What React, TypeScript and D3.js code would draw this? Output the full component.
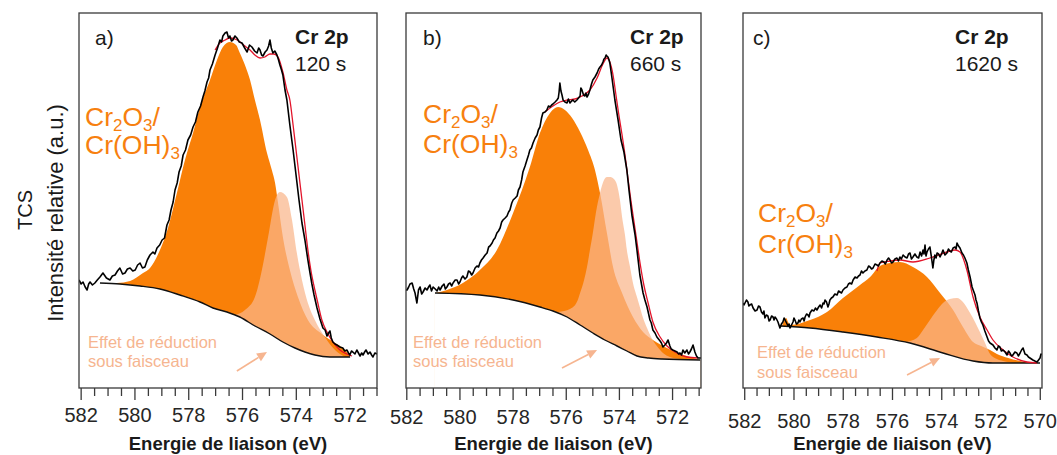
import React from "react";
import * as d3 from "d3";

type Pt = [number, number]; // [binding energy (eV), intensity (a.u.)]

// ---------------- Panel a) 120 s ----------------
const spectrumA: Pt[] = [
  [582.08,108],[582.00,104],[581.93,106],[581.85,101],[581.78,98],[581.72,104],[581.67,106],[581.58,103],[581.49,105],[581.40,108],
  [581.30,111],[581.19,115],[581.06,110],[580.93,108],[580.84,112],[580.74,113],[580.65,117],[580.56,120],[580.46,114],[580.37,115],
  [580.28,119],[580.18,120],[580.08,117],[579.99,118],[579.90,123],[579.81,125],[579.72,120],[579.63,121],[579.54,128],[579.44,133],
  [579.33,136],[579.26,134],[579.18,140],[579.08,143],[578.99,148],[578.90,150],[578.81,163],[578.73,168],[578.66,178],[578.58,186],
  [578.51,198],[578.43,205],[578.36,216],[578.28,222],[578.21,233],[578.12,238],[578.03,248],[577.93,253],[577.84,261],[577.75,266],
  [577.66,276],[577.56,282],[577.47,291],[577.40,297],[577.32,306],[577.26,310],[577.21,318],[577.12,324],[577.02,333],[576.93,340],
  [576.84,348],[576.78,346],[576.73,352],[576.65,355],[576.58,356],[576.52,350],[576.47,352],[576.41,347],[576.36,348],[576.28,352],
  [576.21,350],[576.12,346],[576.02,345],[575.92,340],[575.83,336],[575.74,343],[575.65,341],[575.55,337],[575.46,335],[575.40,340],
  [575.35,338],[575.29,333],[575.24,332],[575.16,336],[575.09,338],[575.03,342],[574.98,348],[574.93,340],[574.87,335],[574.80,337],
  [574.72,333],[574.66,328],[574.61,323],[574.55,318],[574.50,313],[574.42,298],[574.35,288],[574.24,263],[574.12,238],[574.01,213],
  [573.90,188],[573.79,165],[573.68,148],[573.57,128],[573.49,115],[573.42,104],[573.34,93],[573.23,80],[573.12,69],[573.01,60],
  [572.93,58],[572.86,52],[572.80,55],[572.75,57],[572.70,50],[572.64,46],[572.56,44],[572.49,43],[572.38,41],[572.27,40],
  [572.20,37],[572.12,38],[572.06,35],[572.01,33],[571.95,37],[571.90,36],[571.82,34],[571.75,38],[571.69,35],[571.63,32],
  [571.57,35],[571.52,33],[571.46,36],[571.41,38],[571.33,34],[571.26,36],[571.20,33],[571.15,31],[571.08,35],[571.00,34],
];
const envelopeA: Pt[] = [
  [577.02,338],[576.84,345],[576.65,348],[576.47,350],[576.28,349],[576.09,346],[575.91,342],[575.72,338],[575.54,333],[575.35,330],
  [575.17,331],[574.98,334],[574.83,334],[574.68,331],[574.50,316],[574.35,298],[574.24,288],[574.12,263],[574.01,238],[573.90,213],
  [573.79,188],[573.68,163],[573.57,138],[573.46,118],[573.31,98],[573.20,85],[573.05,68],[572.86,56],[572.64,46],[572.38,38],
  [572.12,34],[571.93,32],
];
const backgroundA: Pt[] = [
  [581.30,105],[580.56,104],[579.81,102],[579.07,99],[578.33,93],[577.58,86],[577.10,80],[576.58,76],[576.10,71],[575.54,62],
  [574.98,54],[574.50,46],[574.05,40],[573.68,36],[573.31,33],[572.75,31],[572.00,31],
];
const oxideA: Pt[] = [
  [581.11,105],[580.67,105],[580.18,107],[579.70,115],[579.44,120],[579.07,138],[578.77,160],[578.44,195],[578.14,228],[577.84,255],
  [577.58,281],[577.21,308],[576.95,328],[576.73,341],[576.47,346],[576.24,343],[576.10,335],[575.91,323],[575.72,308],[575.54,288],
  [575.35,268],[575.09,235],[574.91,218],[574.79,205],[574.68,185],[574.50,151],[574.24,118],[573.94,91],[573.57,68],[573.05,54],
  [572.56,45],[572.19,38],[572.01,32],
];
const reducedA: Pt[] = [
  [576.28,73],[575.91,78],[575.54,91],[575.28,118],[575.05,151],[574.79,188],[574.61,196],[574.35,191],[574.16,168],[573.98,135],
  [573.79,108],[573.57,85],[573.31,68],[572.94,51],[572.56,38],[572.19,31],
];

// ---------------- Panel b) 660 s ----------------
const spectrumB: Pt[] = [
  [582.03,98],[581.99,98],[581.93,101],[581.88,104],[581.80,105],[581.74,99],[581.69,95],[581.62,85],[581.56,98],[581.50,101],
  [581.44,94],[581.39,96],[581.31,100],[581.24,98],[581.18,101],[581.13,103],[581.07,97],[581.01,101],[580.93,99],[580.86,97],
  [580.80,101],[580.75,98],[580.67,102],[580.60,104],[580.55,99],[580.49,101],[580.43,104],[580.37,105],[580.31,102],[580.26,105],
  [580.18,108],[580.11,108],[580.05,104],[580.00,106],[579.94,110],[579.89,112],[579.81,109],[579.74,111],[579.68,117],[579.62,116],
  [579.56,113],[579.51,115],[579.43,120],[579.36,122],[579.30,121],[579.25,125],[579.19,128],[579.13,130],[579.05,133],[578.98,135],
  [578.92,141],[578.87,142],[578.79,145],[578.74,148],[578.68,150],[578.61,155],[578.55,157],[578.49,160],[578.43,166],[578.38,168],
  [578.30,170],[578.23,172],[578.17,176],[578.12,178],[578.05,185],[578.00,188],[577.92,190],[577.85,192],[577.80,198],[577.74,201],
  [577.68,208],[577.63,216],[577.55,222],[577.48,228],[577.42,233],[577.37,238],[577.31,240],[577.25,245],[577.17,250],[577.10,253],
  [577.05,258],[576.99,261],[576.93,270],[576.88,275],[576.80,276],[576.73,278],[576.67,282],[576.61,281],[576.55,283],[576.50,284],
  [576.42,286],[576.35,288],[576.30,290],[576.27,296],[576.24,305],[576.20,297],[576.16,293],[576.12,288],[576.05,286],[575.97,285],
  [575.92,289],[575.86,285],[575.80,287],[575.75,288],[575.68,286],[575.60,288],[575.54,290],[575.48,292],[575.45,300],[575.41,298],
  [575.35,293],[575.30,292],[575.26,295],[575.22,291],[575.16,294],[575.11,298],[575.05,304],[575.00,308],[574.92,311],[574.84,315],
  [574.78,319],[574.73,321],[574.67,323],[574.62,326],[574.58,329],[574.54,330],[574.50,333],[574.47,332],[574.43,331],[574.39,328],
  [574.36,325],[574.28,310],[574.17,288],[574.05,268],[573.94,248],[573.83,236],[573.72,218],[573.64,198],[573.53,173],[573.41,153],
  [573.34,138],[573.23,113],[573.11,95],[573.04,88],[572.96,81],[572.85,68],[572.80,65],[572.74,58],[572.66,55],[572.59,51],
  [572.53,49],[572.47,47],[572.42,45],[572.36,41],[572.29,43],[572.23,45],[572.17,48],[572.10,42],[572.05,39],[571.99,38],
  [571.91,37],[571.83,36],[571.77,34],[571.72,35],[571.66,33],[571.61,38],[571.54,35],[571.46,38],[571.40,34],[571.35,36],
  [571.29,39],[571.23,43],[571.16,36],[571.10,32],[571.04,30],[570.93,30],
];
const envelopeB: Pt[] = [
  [576.80,276],[576.50,282],[576.24,286],[575.97,288],[575.67,289],[575.41,292],[575.11,298],[574.84,310],[574.62,324],[574.47,330],
  [574.36,326],[574.24,313],[574.13,293],[574.02,273],[573.90,253],[573.79,233],[573.68,210],[573.57,188],[573.45,166],[573.34,146],
  [573.23,126],[573.08,103],[572.92,85],[572.74,66],[572.47,51],[572.21,42],[571.91,36],[571.46,31],[571.04,30],
];
const backgroundB: Pt[] = [
  [580.94,95],[579.25,93],[578.00,88],[576.99,81],[576.50,77],[575.97,71],[575.48,63],[575.00,55],[574.55,48],[574.09,42],
  [573.72,37],[573.34,32],[572.90,30],[572.40,29],[570.96,28],
];
const oxideB: Pt[] = [
  [580.94,95],[580.49,98],[579.89,105],[579.25,118],[578.61,138],[578.00,175],[577.37,221],[576.99,255],[576.61,275],[576.31,281],
  [576.05,278],[575.78,270],[575.48,256],[575.18,238],[574.92,218],[574.73,195],[574.47,155],[574.24,121],[573.90,95],[573.49,71],
  [573.11,56],[572.74,48],[572.21,40],[571.72,34],[571.34,31],[570.96,28],
];
const reducedB: Pt[] = [
  [576.30,76],[575.86,79],[575.60,86],[575.48,95],[575.33,108],[575.22,121],[575.11,138],[575.00,155],[574.88,176],[574.73,195],
  [574.58,208],[574.47,211],[574.36,211],[574.21,209],[574.09,203],[573.98,188],[573.90,171],[573.79,153],[573.72,138],[573.60,121],
  [573.49,105],[573.34,91],[573.23,81],[573.11,70],[572.96,60],[572.77,49],[572.59,42],[572.36,35],[572.10,31],[571.72,29],
];

// ---------------- Panel c) 1620 s ----------------
const spectrumC: Pt[] = [
  [582.07,85],[582.03,83],[581.99,85],[581.93,88],[581.87,86],[581.83,82],[581.79,83],[581.72,84],[581.66,80],[581.58,77],
  [581.50,78],[581.44,82],[581.38,81],[581.32,76],[581.26,74],[581.22,77],[581.18,70],[581.12,73],[581.06,72],[581.01,67],
  [580.97,68],[580.91,72],[580.85,71],[580.81,68],[580.77,71],[580.71,69],[580.65,66],[580.61,63],[580.57,60],[580.51,64],
  [580.45,66],[580.40,70],[580.36,68],[580.30,65],[580.24,62],[580.20,64],[580.16,60],[580.10,63],[580.04,66],[580.00,70],
  [579.96,68],[579.90,64],[579.84,65],[579.80,68],[579.76,66],[579.70,69],[579.63,70],[579.59,67],[579.55,71],[579.49,74],
  [579.43,73],[579.39,71],[579.35,75],[579.27,78],[579.19,77],[579.13,80],[579.07,78],[579.00,81],[578.94,83],[578.88,80],
  [578.82,85],[578.78,84],[578.74,88],[578.68,86],[578.62,81],[578.58,84],[578.54,88],[578.48,90],[578.42,91],[578.34,94],
  [578.25,93],[578.19,97],[578.13,96],[578.07,95],[578.01,98],[577.93,100],[577.85,101],[577.79,104],[577.73,105],[577.66,104],
  [577.60,108],[577.52,111],[577.44,110],[577.38,112],[577.32,113],[577.26,117],[577.20,115],[577.12,117],[577.04,118],[576.97,122],
  [576.91,121],[576.85,119],[576.79,120],[576.71,124],[576.63,123],[576.57,122],[576.51,125],[576.43,127],[576.35,126],[576.29,124],
  [576.22,128],[576.16,130],[576.10,128],[576.04,125],[575.98,126],[575.90,129],[575.82,130],[575.76,127],[575.70,131],[575.64,129],
  [575.57,133],[575.49,131],[575.41,130],[575.35,134],[575.29,135],[575.23,129],[575.17,131],[575.09,134],[575.01,131],[574.94,130],
  [574.88,136],[574.82,132],[574.76,138],[574.72,134],[574.68,143],[574.64,132],[574.60,136],[574.54,139],[574.48,141],[574.42,131],
  [574.36,120],[574.32,128],[574.28,133],[574.23,130],[574.19,135],[574.13,134],[574.07,131],[574.01,134],[573.95,138],[573.87,133],
  [573.79,135],[573.73,139],[573.67,137],[573.61,136],[573.54,140],[573.46,141],[573.42,139],[573.38,145],[573.32,142],[573.26,140],
  [573.18,135],[573.12,133],[573.06,130],[572.98,125],[572.92,118],[572.85,111],[572.81,106],[572.77,101],[572.71,97],[572.65,93],
  [572.61,88],[572.57,85],[572.51,77],[572.45,70],[572.39,66],[572.33,63],[572.25,57],[572.16,51],[572.10,47],[572.04,45],
  [571.98,44],[571.92,43],[571.84,40],[571.76,38],[571.70,42],[571.64,41],[571.58,37],[571.51,38],[571.43,36],[571.35,33],
  [571.29,37],[571.23,35],[571.17,32],[571.11,33],[571.03,36],[570.95,35],[570.89,32],[570.82,35],[570.76,38],[570.70,40],
  [570.62,34],[570.54,33],[570.48,31],[570.42,30],[570.36,29],[570.30,28],[570.22,27],[570.13,26],[570.07,28],[570.01,30],
  [569.97,34],[569.93,33],
];
const envelopeC: Pt[] = [
  [576.63,117],[576.51,125],[576.10,127],[575.70,128],[575.17,126],[574.48,130],[573.79,136],[573.46,138],[573.26,136],[572.98,118],
  [572.73,91],[572.45,71],[572.16,58],[571.92,48],[571.51,38],[571.11,31],[570.54,26],[570.13,25],
];
const backgroundC: Pt[] = [
  [580.55,62],[579.35,60],[578.01,56],[576.63,51],[575.29,45],[573.95,35],[572.73,27],[571.92,25],[570.01,25],
];
const oxideC: Pt[] = [
  [580.49,62],[580.40,67],[580.32,70],[580.24,66],[580.16,63],[579.35,68],[578.66,76],[578.01,90],[577.32,103],[576.91,111],
  [576.51,122],[576.10,125],[575.70,126],[575.17,121],[574.60,111],[574.07,95],[573.54,78],[573.14,61],[572.73,46],[572.40,42],
  [572.04,38],[571.76,34],[571.30,30],[570.82,27],[570.30,25],[570.13,25],
];
const reducedC: Pt[] = [
  [575.49,46],[575.01,50],[574.76,58],[574.48,68],[574.19,78],[573.95,85],[573.67,89],[573.38,90],[573.14,86],[572.85,75],
  [572.65,66],[572.45,56],[572.24,45],[572.04,34],[571.76,29],[571.51,27],[571.00,25],
];

// ---------------- Labels / ticks ----------------
const majorTicksAB = [582, 580, 578, 576, 574, 572];
const majorTicksC = [582, 580, 578, 576, 574, 572, 570];
const panelTags = ["a)", "b)", "c)"];
const panelTimes = ["120 s", "660 s", "1620 s"];
const elementLabel = "Cr 2p";
const xTitle = "Energie de liaison (eV)";
const yTitleOuter = "TCS";
const yTitleInner = "Intensité relative (a.u.)";
const effetLines = ["Effet de réduction", "sous faisceau"];

const series = [
  { spectrum: spectrumA, envelope: envelopeA, background: backgroundA, oxide: oxideA, reduced: reducedA },
  { spectrum: spectrumB, envelope: envelopeB, background: backgroundB, oxide: oxideB, reduced: reducedB },
  { spectrum: spectrumC, envelope: envelopeC, background: backgroundC, oxide: oxideC, reduced: reducedC },
];

// ---------------- Layout / style ----------------
const W = 1057;
const H = 455;
const TOP = 13;
const BOTTOM = 388;
const FONT = "'Liberation Sans', Arial, Helvetica, sans-serif";
const ORANGE = "#F98008";
const ORANGE_TEXT = "#F7800F";
const LIGHT = "#F9B58A";
const SALMON = "#F6B590";
const TEXT = "#1a1a1a";

const yScale = d3.scaleLinear().domain([0, 375]).range([BOTTOM, TOP]);

const layouts = [
  { left: 79, right: 377, domain: [582.08, 571.0], minorEnd: 571, ticks: majorTicksAB, tickY: 422,
    tag: [95, 45], head: [295, 44], oxide: [85, 126, 154], effet: [88, 348, 367],
    arrow: [[576.21, 17], [575.09, 36]] as Pt[] },
  { left: 406, right: 701, domain: [582.03, 570.93], minorEnd: 571, ticks: majorTicksAB, tickY: 424,
    tag: [423, 45], head: [630, 44], oxide: [423, 123, 153], effet: [413, 348, 367],
    arrow: [[576.16, 20], [574.84, 38]] as Pt[] },
  { left: 743, right: 1042, domain: [582.07, 569.93], minorEnd: 570, ticks: majorTicksC, tickY: 428,
    tag: [753, 45], head: [955, 44], oxide: [758, 222, 253], effet: [757, 358, 378],
    arrow: [[575.41, 13], [574.07, 30]] as Pt[] },
];

function Panel({ i }: { i: number }) {
  const L = layouts[i];
  const s = series[i];
  const x = d3.scaleLinear().domain(L.domain).range([L.left, L.right]);
  const y = yScale;
  const X = (d: Pt) => x(d[0]);
  const Y = (d: Pt) => y(d[1]);
  const raw = d3.line<Pt>().x(X).y(Y);
  const smooth = d3.line<Pt>().x(X).y(Y).curve(d3.curveMonotoneX);
  const toBottom = d3.area<Pt>().x(X).y0(y(0)).y1(Y).curve(d3.curveMonotoneX);
  const clipId = `clip-panel-${i}`;
  const minor = d3.range(582, L.minorEnd - 0.01, -0.5);

  const [a0, a1] = L.arrow;
  const ax0 = x(a0[0]), ay0 = y(a0[1]), ax1 = x(a1[0]), ay1 = y(a1[1]);
  const len = Math.hypot(ax1 - ax0, ay1 - ay0);
  const ux = (ax1 - ax0) / len, uy = (ay1 - ay0) / len;
  const hl = 10, hw = 4.5;
  const bx = ax1 - ux * hl, by = ay1 - uy * hl;
  const head = `M${ax1},${ay1}L${bx - uy * hw},${by + ux * hw}L${bx + uy * hw},${by - ux * hw}Z`;

  const [ox, oy1, oy2] = L.oxide;
  const cx = (L.left + L.right) / 2;

  return (
    <g>
      <defs>
        <clipPath id={clipId}>
          <rect x={L.left} y={TOP} width={L.right - L.left} height={BOTTOM - TOP} />
        </clipPath>
      </defs>
      <g clipPath={`url(#${clipId})`}>
        <path d={toBottom(s.oxide) || ""} fill={ORANGE} />
        <path d={toBottom(s.reduced) || ""} fill={LIGHT} fillOpacity={0.72} />
        <path d={toBottom(s.background) || ""} fill="#ffffff" />
        <path d={smooth(s.background) || ""} fill="none" stroke="#111" strokeWidth={1.4} />
        <path d={smooth(s.envelope) || ""} fill="none" stroke="#E3142A" strokeWidth={1.3} />
        <path d={raw(s.spectrum) || ""} fill="none" stroke="#000" strokeWidth={1.6} strokeLinejoin="round" />
      </g>

      <text x={L.tag[0]} y={L.tag[1]} fontFamily={FONT} fontSize={21} fill={TEXT}>{panelTags[i]}</text>
      <text x={L.head[0]} y={L.head[1]} fontFamily={FONT} fontSize={21} fontWeight="bold" fill={TEXT}>{elementLabel}</text>
      <text x={L.head[0]} y={L.head[1] + 27} fontFamily={FONT} fontSize={21} fill={TEXT}>{panelTimes[i]}</text>

      <text x={ox} y={oy1} fontFamily={FONT} fontSize={26.5} fill={ORANGE_TEXT}>
        Cr<tspan fontSize={17} dy={5}>2</tspan><tspan dy={-5}>O</tspan><tspan fontSize={17} dy={5}>3</tspan><tspan dy={-5}>/</tspan>
      </text>
      <text x={ox} y={oy2} fontFamily={FONT} fontSize={26.5} fill={ORANGE_TEXT}>
        Cr(OH)<tspan fontSize={17} dy={5}>3</tspan>
      </text>

      <text x={L.effet[0]} y={L.effet[1]} fontFamily={FONT} fontSize={16.5} fill={SALMON}>{effetLines[0]}</text>
      <text x={L.effet[0]} y={L.effet[2]} fontFamily={FONT} fontSize={16.5} fill={SALMON}>{effetLines[1]}</text>
      <line x1={ax0} y1={ay0} x2={bx} y2={by} stroke={SALMON} strokeWidth={1.6} />
      <path d={head} fill={SALMON} />

      <rect x={L.left} y={TOP} width={L.right - L.left} height={BOTTOM - TOP} fill="none" stroke="#3a3a3a" strokeWidth={1.3} />

      {minor.map((t) => (
        <line key={`m${t}`} x1={x(t)} x2={x(t)} y1={BOTTOM} y2={BOTTOM + (Number.isInteger(t / 2) ? 12 : 8)}
          stroke="#3a3a3a" strokeWidth={1.3} />
      ))}
      {L.ticks.map((t) => (
        <text key={`t${t}`} x={x(t)} y={L.tickY} textAnchor="middle" fontFamily={FONT} fontSize={20} fill="#262626">{t}</text>
      ))}
      <text x={cx} y={450} textAnchor="middle" fontFamily={FONT} fontSize={18.5} fontWeight="bold" fill={TEXT}>{xTitle}</text>
    </g>
  );
}

export default function App() {
  return (
    <svg width={W} height={H} viewBox={`0 0 ${W} ${H}`}
      style={{ position: "absolute", left: 0, top: 0, display: "block", background: "#fff" }}>
      <rect x={0} y={0} width={W} height={H} fill="#fff" />
      <text transform="translate(32,210) rotate(-90)" textAnchor="middle" fontFamily={FONT} fontSize={20} fill={TEXT}>{yTitleOuter}</text>
      <text transform="translate(63,213) rotate(-90)" textAnchor="middle" fontFamily={FONT} fontSize={22} fill={TEXT}>{yTitleInner}</text>
      {[0, 1, 2].map((i) => <Panel key={i} i={i} />)}
    </svg>
  );
}
